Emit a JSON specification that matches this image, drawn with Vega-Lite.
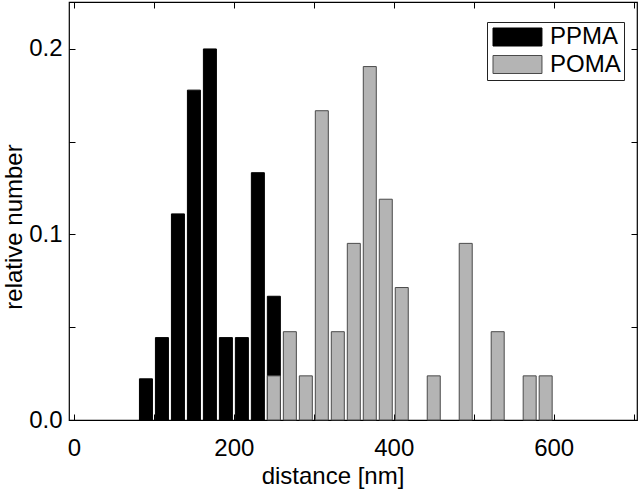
{
  "$schema": "https://vega.github.io/schema/vega-lite/v6.json",
  "width": 568,
  "height": 418,
  "autosize": "none",
  "padding": {"left": 69, "top": 2, "right": 3, "bottom": 70},
  "background": "white",
  "config": {
    "font": "Liberation Sans",
    "view": {"stroke": "#000", "strokeWidth": 1.2},
    "axis": {"grid": false, "domain": false, "tickColor": "#000", "labelColor": "#000", "titleColor": "#000", "labelFontSize": 24, "titleFontSize": 24, "titleFontWeight": "normal", "labelFont": "Liberation Sans", "titleFont": "Liberation Sans"}
  },
  "datasets": {
    "bars": [
      {"sample": "PPMA", "distance": 90, "relative": 0.0222},
      {"sample": "PPMA", "distance": 110, "relative": 0.0444},
      {"sample": "PPMA", "distance": 130, "relative": 0.1111},
      {"sample": "PPMA", "distance": 150, "relative": 0.1778},
      {"sample": "PPMA", "distance": 170, "relative": 0.2},
      {"sample": "PPMA", "distance": 190, "relative": 0.0444},
      {"sample": "PPMA", "distance": 210, "relative": 0.0444},
      {"sample": "PPMA", "distance": 230, "relative": 0.1333},
      {"sample": "PPMA", "distance": 250, "relative": 0.0667},
      {"sample": "POMA", "distance": 250, "relative": 0.0238},
      {"sample": "POMA", "distance": 270, "relative": 0.0476},
      {"sample": "POMA", "distance": 290, "relative": 0.0238},
      {"sample": "POMA", "distance": 310, "relative": 0.1667},
      {"sample": "POMA", "distance": 330, "relative": 0.0476},
      {"sample": "POMA", "distance": 350, "relative": 0.0952},
      {"sample": "POMA", "distance": 370, "relative": 0.1905},
      {"sample": "POMA", "distance": 390, "relative": 0.119},
      {"sample": "POMA", "distance": 410, "relative": 0.0714},
      {"sample": "POMA", "distance": 450, "relative": 0.0238},
      {"sample": "POMA", "distance": 490, "relative": 0.0952},
      {"sample": "POMA", "distance": 530, "relative": 0.0476},
      {"sample": "POMA", "distance": 570, "relative": 0.0238},
      {"sample": "POMA", "distance": 590, "relative": 0.0238}
    ]
  },
  "data": {"name": "bars"},
  "layer": [
    {
      "mark": {"type": "bar", "orient": "vertical", "width": 13, "strokeWidth": 1},
      "encoding": {
        "x": {
          "field": "distance", "type": "quantitative",
          "scale": {"domain": [0, 698], "nice": false, "zero": false},
          "axis": {"orient": "bottom", "values": [0, 100, 200, 300, 400, 500, 600, 700], "labelExpr": "datum.value % 200 == 0 ? datum.value : ''", "tickSize": -6, "labelBaseline": "alphabetic", "labelPadding": 41, "title": "distance [nm]", "titleX": 263.5, "titleY": 63, "titleBaseline": "alphabetic", "titleAnchor": null, "titleAlign": "center"}
        },
        "y": {
          "field": "relative", "type": "quantitative", "stack": null,
          "scale": {"domain": [0, 0.2253], "nice": false},
          "axis": {"orient": "left", "values": [0, 0.05, 0.1, 0.15, 0.2], "labelExpr": "round(datum.value * 100) % 10 == 0 ? format(datum.value, '.1f') : ''", "tickSize": -6, "labelPadding": 13, "title": "relative number", "titleX": -48, "titleY": 224.5, "titleAngle": -90, "titleBaseline": "alphabetic", "titleAlign": "center"}
        },
        "fill": {
          "field": "sample", "type": "nominal",
          "scale": {"domain": ["PPMA", "POMA"], "range": ["#000000", "#b4b4b4"]},
          "legend": {"orient": "none", "legendX": 418, "legendY": 20, "title": null, "symbolType": "M-1,-1H4.44V1H-1Z", "symbolSize": 324, "symbolStrokeColor": "#333", "symbolStrokeWidth": 1, "labelFontSize": 24, "labelColor": "#000", "labelFont": "Liberation Sans", "strokeColor": "#222", "fillColor": "white", "padding": 3, "rowPadding": 3.5, "labelOffset": 36}
        },
        "stroke": {
          "field": "sample", "type": "nominal",
          "scale": {"domain": ["PPMA", "POMA"], "range": ["#000000", "#4a4a4a"]},
          "legend": null
        }
      }
    },
    {
      "mark": {"type": "point", "opacity": 0},
      "encoding": {
        "x": {"field": "distance", "type": "quantitative", "axis": {"orient": "top", "values": [0, 100, 200, 300, 400, 500, 600, 700], "labels": false, "tickSize": -6, "title": null}},
        "y": {"field": "relative", "type": "quantitative", "axis": {"orient": "right", "values": [0, 0.05, 0.1, 0.15, 0.2], "labels": false, "tickSize": -6, "title": null}}
      }
    }
  ],
  "resolve": {"axis": {"x": "independent", "y": "independent"}}
}
